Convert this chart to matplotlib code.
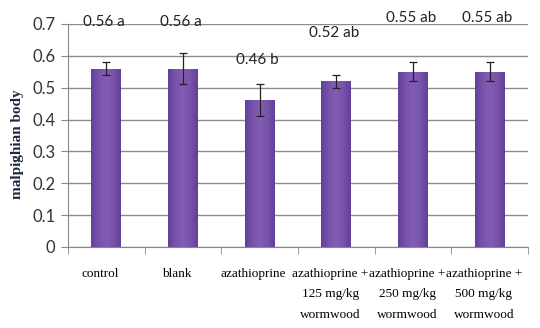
import numpy as np
import matplotlib.pyplot as plt
import matplotlib.transforms as mtransforms
from matplotlib.colors import LinearSegmentedColormap

groups = ["control", "blank", "azathioprine",
          "azathioprine +\n125 mg/kg\nwormwood",
          "azathioprine +\n250 mg/kg\nwormwood",
          "azathioprine +\n500 mg/kg\nwormwood"]
means = [0.56, 0.56, 0.46, 0.52, 0.55, 0.55]
errors = [0.02, 0.05, 0.05, 0.02, 0.03, 0.03]
letters = ["a", "a", "b", "ab", "ab", "ab"]
label_y = [0.705, 0.705, 0.586, 0.671, 0.718, 0.718]

fig = plt.figure(figsize=(5.4, 3.28), dpi=100)
ax = fig.add_axes([0.126, 0.247, 0.852, 0.680])

x = np.arange(len(groups))
bars = ax.bar(x, means, width=0.39, color="#7650a6", zorder=3)

# soft lighter centre on each bar
purple = LinearSegmentedColormap.from_list(
    "purp", ["#62409a", "#7853aa", "#835db4", "#7853aa", "#62409a"])
grad = np.linspace(0, 1, 64).reshape(1, -1)
for b in bars:
    x0, w, h = b.get_x(), b.get_width(), b.get_height()
    im = ax.imshow(grad, cmap=purple, aspect="auto",
                   extent=[x0, x0 + w, 0, h], zorder=3)
    im.set_clip_path(b)

ax.errorbar(x, means, yerr=errors, fmt="none", ecolor="#222222",
            elinewidth=0.9, capsize=3, capthick=0.9, zorder=4)

for xi, m, l, ly in zip(x, means, letters, label_y):
    ax.text(xi - 0.03, ly, f"{m:.2f} {l}", ha="center", va="center",
            fontsize=11, family="Lato", color="#222222")

ax.set_xlim(-0.5, len(groups) - 0.5)
ax.set_ylim(0, 0.7)
ax.set_yticks(np.arange(0, 0.71, 0.1))
ax.set_yticklabels(["0"] + [f"{v:.1f}" for v in np.arange(0.1, 0.71, 0.1)],
                   family="Lato", fontsize=12)
ax.set_xticks(x)
ax.set_xticklabels(groups, family="Liberation Serif", fontsize=9.5,
                   linespacing=1.95)
ax.set_xticks(np.arange(-0.5, len(groups), 1), minor=True)
ax.tick_params(axis="x", which="major", length=0, pad=15)
ax.tick_params(axis="x", which="minor", length=5, color="#888888", direction="out")
ax.tick_params(axis="y", length=5, color="#888888", pad=4, labelcolor="#333333")

# category labels sit a little left of the bars
shift = mtransforms.ScaledTranslation(-0.06, 0, fig.dpi_scale_trans)
for lab in ax.get_xticklabels():
    lab.set_transform(lab.get_transform() + shift)

ax.grid(axis="y", color="#8c8c8c", linewidth=1.0, zorder=0)
for s in ["top", "right"]:
    ax.spines[s].set_visible(False)
ax.spines["left"].set_color("#888888")
ax.spines["bottom"].set_color("#888888")

ax.set_ylabel("malpighian body", family="Liberation Serif", fontweight="bold",
              fontsize=11, color="#1e2740")
ax.yaxis.set_label_coords(-0.095, 0.46)

fig.savefig("out.png", dpi=100)
